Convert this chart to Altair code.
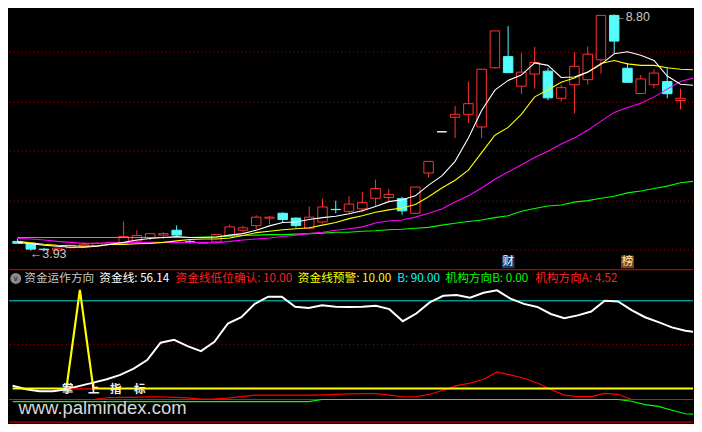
import altair as alt
import pandas as pd
import numpy as np

# ================= price panel data (K-line) =================
opens = [4.12, 4.08, 3.96, 3.94, 3.99, 4.01, 4.03, 4.09, 4.08, 4.13,
         4.20, 4.25, 4.35, 4.12, 4.08, 4.11, 4.23, 4.35, 4.445, 4.60,
         4.70, 4.60, 4.39, 4.52, 4.78, 4.74, 4.79, 5.01, 5.025, 5.00,
         4.70, 5.53, 6.38, 6.68, 6.74, 6.48, 7.70, 7.93, 7.32, 7.57,
         7.63, 7.07, 7.35, 7.455, 7.865, 8.78, 7.69, 7.17, 7.35, 7.415, 7.025]
highs = [4.17, 4.09, 3.99, 3.99, 4.05, 4.10, 4.10, 4.11, 4.53, 4.35,
         4.29, 4.31, 4.45, 4.15, 4.10, 4.27, 4.465, 4.445, 4.66, 4.645,
         4.72, 4.62, 4.84, 5.00, 4.96, 5.05, 5.14, 5.395, 5.20, 5.04,
         5.24, 5.77, 6.38, 6.91, 7.415, 7.67, 8.46, 8.56, 8.00, 8.13,
         7.70, 7.35, 8.02, 8.14, 8.78, 8.80, 7.80, 7.55, 7.67, 7.71, 7.27]
lows = [4.08, 3.93, 3.93, 3.935, 3.98, 4.00, 4.02, 4.08, 4.07, 4.11,
        4.15, 4.17, 4.19, 4.07, 4.07, 4.10, 4.20, 4.30, 4.37, 4.47,
        4.51, 4.405, 4.37, 4.485, 4.70, 4.70, 4.72, 4.83, 4.95, 4.67,
        4.69, 5.435, 6.38, 6.25, 6.56, 6.25, 7.68, 7.59, 7.16, 7.27,
        7.03, 7.005, 6.76, 7.35, 7.58, 8.00, 7.40, 7.17, 7.28, 7.07, 6.84]
closes = [4.08, 3.96, 3.95, 3.98, 4.04, 4.05, 4.08, 4.10, 4.22, 4.24,
          4.28, 4.28, 4.25, 4.115, 4.10, 4.26, 4.42, 4.40, 4.62, 4.62,
          4.57, 4.445, 4.62, 4.83, 4.775, 4.89, 4.92, 5.21, 5.09, 4.75,
          5.24, 5.77, 6.38, 6.74, 6.96, 7.67, 8.46, 7.60, 7.61, 7.81,
          7.08, 7.29, 7.73, 7.98, 8.78, 8.25, 7.40, 7.47, 7.59, 7.165, 7.07]

ma5 = [4.10, 4.07, 4.04, 4.02, 4.00, 4.00, 4.02, 4.06, 4.10, 4.15,
       4.18, 4.20, 4.22, 4.20, 4.20, 4.21, 4.25, 4.28, 4.35, 4.44,
       4.51, 4.52, 4.57, 4.61, 4.64, 4.69, 4.75, 4.84, 4.94, 4.98,
       5.06, 5.28, 5.47, 5.77, 6.25, 6.82, 7.24, 7.44, 7.55, 7.80,
       7.75, 7.50, 7.51, 7.61, 7.77, 7.99, 8.03, 7.96, 7.85, 7.53,
       7.36, 7.34]
ma10 = [4.12, 4.09, 4.06, 4.04, 4.03, 4.02, 4.03, 4.055, 4.055, 4.07,
        4.08, 4.10, 4.13, 4.16, 4.17, 4.17, 4.19, 4.24, 4.30, 4.33,
        4.36, 4.38, 4.40, 4.455, 4.51, 4.59, 4.65, 4.72, 4.77, 4.81,
        4.88, 5.04, 5.22, 5.38, 5.59, 5.95, 6.31, 6.47, 6.74, 7.10,
        7.24, 7.40, 7.49, 7.61, 7.79, 7.85, 7.78, 7.75, 7.75, 7.70,
        7.67, 7.66]
ma20 = [4.18, 4.17, 4.15, 4.12, 4.10, 4.08, 4.08, 4.09, 4.095, 4.10,
        4.10, 4.10, 4.10, 4.10, 4.095, 4.09, 4.12, 4.15, 4.17, 4.19,
        4.22, 4.25, 4.28, 4.31, 4.35, 4.38, 4.42, 4.50, 4.54, 4.56,
        4.62, 4.70, 4.79, 4.93, 5.06, 5.22, 5.40, 5.55, 5.70, 5.85,
        5.98, 6.13, 6.25, 6.41, 6.60, 6.78, 6.88, 6.97, 7.10, 7.26,
        7.415, 7.49]
ma60 = [4.20, 4.20, 4.20, 4.20, 4.20, 4.20, 4.20, 4.20, 4.20, 4.20,
        4.20, 4.20, 4.20, 4.20, 4.21, 4.21, 4.23, 4.24, 4.25, 4.26,
        4.26, 4.27, 4.28, 4.29, 4.31, 4.31, 4.33, 4.34, 4.36, 4.37,
        4.39, 4.41, 4.455, 4.495, 4.53, 4.56, 4.61, 4.65, 4.74, 4.80,
        4.85, 4.87, 4.93, 4.96, 5.01, 5.05, 5.12, 5.16, 5.21, 5.26,
        5.33, 5.36]

grid_prices = [8.02, 6.99, 5.98, 4.95, 3.94]
extreme_idx = [1, 45]
extreme_price = [3.93, 8.80]
extreme_text = ["\u21903.93", "\u21908.80"]
badge_idx = [37, 46]
badge_text = ["财", "榜"]
badge_bg = ["#173E6B", "#7C4A16"]
badge_fg = ["#FFFFFF", "#FFE2B8"]

# ================= indicator panel data =================
fund_line = [12.6, 9.3, 7.6, 7.6, 9.3, 12.4, 15.4, 18.5, 22.4, 28.1,
             36.0, 51.8, 54.4, 48.7, 44.1, 52.6, 69.3, 75.0, 87.2, 93.8,
             93.8, 84.6, 83.5, 85.9, 84.6, 84.4, 84.6, 85.5, 82.4, 71.4,
             78.4, 88.5, 94.6, 95.3, 92.9, 97.3, 99.6, 92.0, 87.2, 84.4,
             78.0, 74.2, 76.7, 80.2, 90.0, 89.4, 81.5, 75.0, 70.6, 65.8,
             62.7, 60.9]
warn_line = [10, 10, 10, 10, 10, 100, 10, 10, 10, 10,
             10, 10, 10, 10, 10, 10, 10, 10, 10, 10,
             10, 10, 10, 10, 10, 10, 10, 10, 10, 10,
             10, 10, 10, 10, 10, 10, 10, 10, 10, 10,
             10, 10, 10, 10, 10, 10, 10, 10, 10, 10,
             10, 10]
low_confirm = [None, None, None, None, 9.7, 9.7, 9.7, None, None, None,
               None, None, None, None, None, None, None, None, None, None,
               None, None, None, None, None, None, None, None, None, None,
               None, None, None, None, None, None, None, None, None, None,
               None, None, None, None, None, None, None, None, None, None,
               None, None]
inst_a = [0, 0, 0, 0, 0, 0, 0, 1.6, 1.9, 1.9,
          2.3, 2.5, 1.9, 1.4, 0.4, 0.5, 1.25, 2.7, 3.9, 3.9,
          3.9, 3.9, 3.9, 4.2, 4.75, 5.1, 5.4, 5.4, 4.05, 2.5,
          2.7, 4.75, 8.4, 12.6, 15.0, 18.5, 25.1, 22.4, 19.4, 15.0,
          9.1, 4.05, 2.7, 2.7, 5.6, 4.75, 0, 0, 0, 0,
          0, 0]
inst_b = [-1.9, -1.9, -1.9, -1.9, -1.9, -1.9, -1.9, -1.9, -1.9, -1.9,
          -1.9, -1.9, -1.9, -1.9, -1.9, -1.9, -1.9, -1.9, -1.9, -1.9,
          -1.9, -1.9, -1.9, 0, 0, 0, 0, 0, 0, 0,
          0, 0, 0, 0, 0, 0, 0, 0, 0, 0,
          0, 0, 0, 0, 0, 0, -1.6, -4.7, -6.3, -9.8,
          -13.0, -13.5]
level_b = [90]
level_mid = [50]
level_zero = [0]
frame_levels = [118.5, -20.6]

title_parts = ["资金运作方向", "资金线: 56.14", "资金线低位确认: 10.00", "资金线预警: 10.00",
               "B: 90.00", "机构方向B: 0.00", "机构方向A: 4.52"]
watermark_chars = ["掌", "上", "指", "标"]
watermark_url = "www.palmindex.com"

# ================= layout / styles =================
W, H_TOP, H_BOT = 686, 261, 155
X_DOM = [-0.268, 50.566]
Y_TOP = [3.554, 8.92]
Y_BOT = [-21.8, 119.15]
RED, CYAN = "#FF3232", "#54FCFC"
CJK = "Noto Sans CJK SC"

xs = alt.Scale(domain=X_DOM, nice=False, zero=False)
yts = alt.Scale(domain=Y_TOP, nice=False, zero=False)
ybs = alt.Scale(domain=Y_BOT, nice=False, zero=False)


def X(f="i"):
    return alt.X(f"{f}:Q", scale=xs, axis=None)


def YT(f):
    return alt.Y(f"{f}:Q", scale=yts, axis=None)


def YB(f):
    return alt.Y(f"{f}:Q", scale=ybs, axis=None)


# ---- candles frame
k = pd.DataFrame({"i": list(range(len(opens))), "open": opens, "high": highs,
                  "low": lows, "close": closes})
k["top"] = k[["open", "close"]].max(axis=1)
k["bot"] = k[["open", "close"]].min(axis=1)
k["kind"] = np.where(k["close"] > k["open"], "up",
                     np.where(k["close"] < k["open"], "down", "flat"))
kind_stroke = alt.Scale(domain=["up", "down", "flat"], range=[RED, CYAN, "#FFFFFF"])
kind_fill = alt.Scale(domain=["up", "down", "flat"], range=["#000000", CYAN, "#FFFFFF"])

ma = pd.DataFrame({"i": list(range(len(ma5))), "ma5": ma5, "ma10": ma10,
                   "ma20": ma20, "ma60": ma60})

grid = alt.Chart(pd.DataFrame({"p": grid_prices})).mark_rule(
    color="#B00000", strokeDash=[1, 3], strokeWidth=1).encode(y=YT("p"))

kb = alt.Chart(k)
upper_wick = kb.mark_rule(strokeWidth=1).encode(
    x=X(), y=YT("top"), y2="high:Q",
    color=alt.Color("kind:N", scale=kind_stroke, legend=None))
lower_wick = kb.mark_rule(strokeWidth=1).encode(
    x=X(), y=YT("low"), y2="bot:Q",
    color=alt.Color("kind:N", scale=kind_stroke, legend=None))
bodies = kb.mark_bar(size=9.5, strokeWidth=1).encode(
    x=X(), y=YT("bot"), y2="top:Q",
    fill=alt.Fill("kind:N", scale=kind_fill, legend=None),
    stroke=alt.Stroke("kind:N", scale=kind_stroke, legend=None))

mab = alt.Chart(ma)
ma_layers = []
for fld, col in [("ma60", "#00FF00"), ("ma20", "#FF00FF"), ("ma10", "#FFFF00"), ("ma5", "#FFFFFF")]:
    ma_layers.append(mab.mark_line(color=col, strokeWidth=1.1, clip=True).encode(x=X(), y=YT(fld)))

ext = alt.Chart(pd.DataFrame({"i": extreme_idx, "p": extreme_price, "t": extreme_text})).mark_text(
    align="left", baseline="middle", dy=3, dx=-1, color="#C8C8C8", fontSize=12.5,
    font="Liberation Sans, DejaVu Sans").encode(x=X(), y=YT("p"), text="t:N")

bd = pd.DataFrame({"i": badge_idx, "t": badge_text, "bg": badge_bg, "fg": badge_fg})
badge_sq = alt.Chart(bd).mark_square(size=165, filled=True, opacity=1).encode(
    x=X(), y=alt.value(254), color=alt.Color("bg:N", scale=None))
badge_tx = alt.Chart(bd).mark_text(fontSize=11.5, font=CJK, baseline="middle").encode(
    x=X(), y=alt.value(254.5), text="t:N", color=alt.Color("fg:N", scale=None))

top = alt.layer(grid, lower_wick, upper_wick, bodies, *ma_layers, ext, badge_sq, badge_tx).properties(
    width=W, height=H_TOP)

# ---- indicator panel
ind = pd.DataFrame({"i": list(range(len(fund_line))), "fund": fund_line, "warn": warn_line,
                    "low": low_confirm, "a": inst_a, "b": inst_b})
ib = alt.Chart(ind)

frame = alt.Chart(pd.DataFrame({"v": frame_levels})).mark_rule(
    color="#B80000", strokeWidth=1.2).encode(y=YB("v"))
zero_rule = alt.Chart(pd.DataFrame({"v": level_zero})).mark_rule(
    color="#FF0000", strokeWidth=1).encode(y=YB("v"))
mid_rule = alt.Chart(pd.DataFrame({"v": level_mid})).mark_rule(
    color="#B00000", strokeDash=[1, 3], strokeWidth=1).encode(y=YB("v"))
b_rule = alt.Chart(pd.DataFrame({"v": level_b})).mark_rule(
    color="#00D8D8", strokeWidth=1).encode(y=YB("v"))

green_l = ib.mark_line(color="#00FF00", strokeWidth=1.2, clip=True).encode(x=X(), y=YB("b"))
red_a = ib.mark_line(color="#FF0000", strokeWidth=1.2, clip=True).encode(x=X(), y=YB("a"))
white_l = ib.mark_line(color="#FFFFFF", strokeWidth=2, clip=True).encode(x=X(), y=YB("fund"))
yellow_l = ib.mark_line(color="#FFFF00", strokeWidth=2.2, clip=True).encode(x=X(), y=YB("warn"))
red_low = ib.mark_line(color="#FF0000", strokeWidth=1.2, clip=True).encode(x=X(), y=YB("low"))

wm_layers = []
for ch, px in zip(watermark_chars, [59, 85, 107, 131]):
    wm_layers.append(alt.Chart(pd.DataFrame({"t": [ch]})).mark_text(
        fontSize=11.5, fontWeight="bold", font=CJK, color="#F0F0F0", baseline="middle").encode(
        x=alt.value(px), y=alt.value(121.5), text="t:N"))
wm_layers.append(alt.Chart(pd.DataFrame({"t": [watermark_url]})).mark_text(
    fontSize=18.5, font="Liberation Sans", color="#D8D8D8", align="left", baseline="alphabetic").encode(
    x=alt.value(9.5), y=alt.value(145.5), text="t:N"))

title_layers = [
    alt.Chart(pd.DataFrame({"t": [""]})).mark_circle(size=120, color="#8C8C8C", opacity=1).encode(
        x=alt.value(6.8), y=alt.value(9.6)),
    alt.Chart(pd.DataFrame({"t": ["\u2228"]})).mark_text(
        fontSize=8, font="DejaVu Sans", color="#2A2A2A", baseline="middle").encode(
        x=alt.value(6.8), y=alt.value(10), text="t:N"),
]
for txt, px, col in zip(title_parts, [15.3, 90.6, 167.1, 289.7, 389.5, 437.8, 527.7],
                        ["#C8C8C8", "#FFFFFF", "#FF2020", "#FFFF00", "#00FFFF", "#00FF00", "#FF2020"]):
    title_layers.append(alt.Chart(pd.DataFrame({"t": [txt]})).mark_text(
        align="left", baseline="middle", fontSize=11.7, font=CJK, color=col).encode(
        x=alt.value(px), y=alt.value(9.6), text="t:N"))

bottom = alt.layer(zero_rule, green_l, red_a, b_rule, mid_rule, white_l, yellow_l, red_low,
                   *wm_layers, frame, *title_layers).properties(width=W, height=H_BOT)

chart = alt.vconcat(top, bottom, spacing=0, padding=0, background="#000000").resolve_scale(
    y="independent").configure_view(stroke=None)

chart.save("out.html", embed_options={"renderer": "svg", "actions": False})
